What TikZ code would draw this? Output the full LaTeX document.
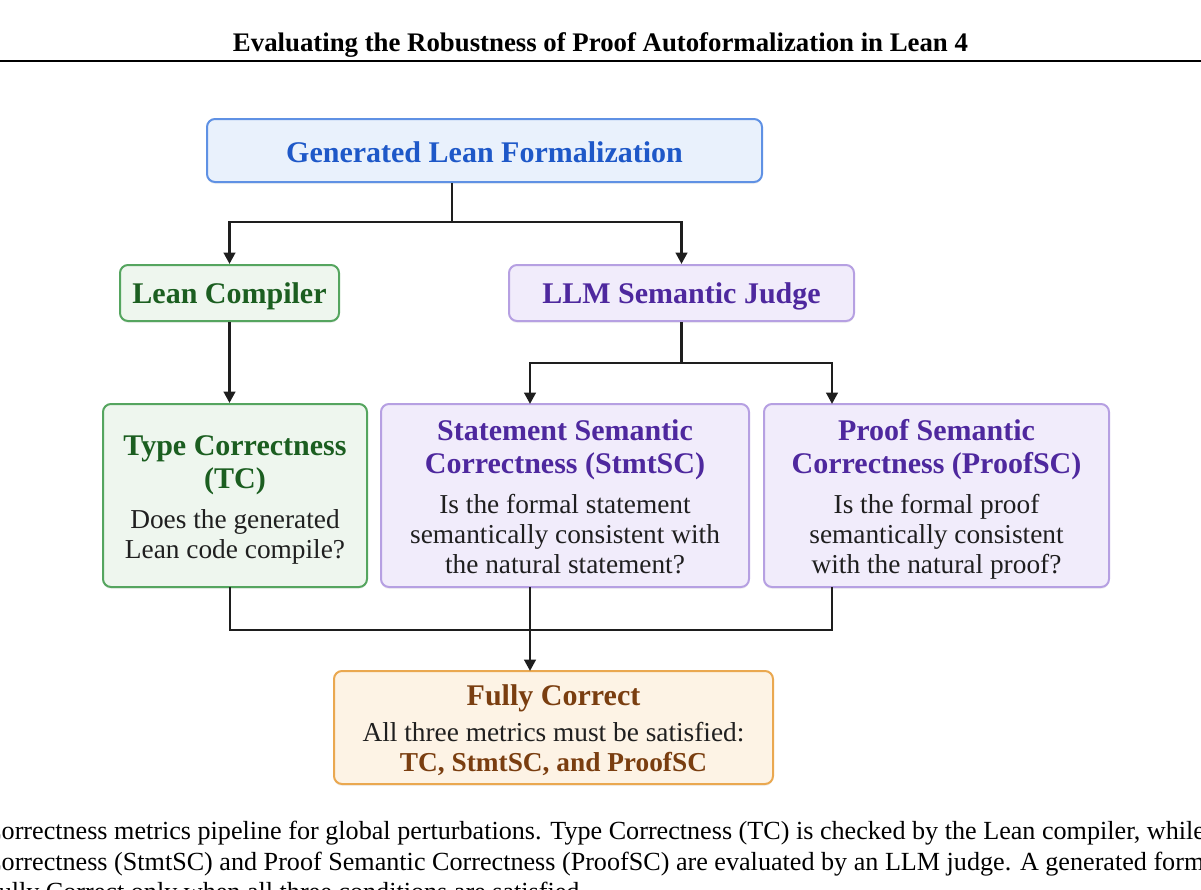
\documentclass[tikz,border=0pt]{standalone}
\usepackage{fontspec}
\setmainfont{Liberation Serif}
\usetikzlibrary{arrows.meta,shadows}
\definecolor{bluetx}{RGB}{30,88,200}
\definecolor{bluebd}{RGB}{95,145,228}
\definecolor{bluefl}{RGB}{233,241,252}
\definecolor{greentx}{RGB}{27,94,32}
\definecolor{greenbd}{RGB}{85,165,95}
\definecolor{greenfl}{RGB}{238,246,238}
\definecolor{purpletx}{RGB}{78,40,158}
\definecolor{purplebd}{RGB}{182,160,226}
\definecolor{purplefl}{RGB}{241,236,251}
\definecolor{orangetx}{RGB}{122,62,16}
\definecolor{orangebd}{RGB}{234,168,80}
\definecolor{orangefl}{RGB}{253,243,229}
\definecolor{linec}{RGB}{30,30,30}
\begin{document}
\begin{tikzpicture}[x=0.75pt,y=-0.75pt,
  box/.style={draw, rounded corners=6pt, line width=1.5pt, inner sep=0pt,
    drop shadow={opacity=0.10, shadow xshift=0pt, shadow yshift=-1.5pt}},
  bluebox/.style={box, draw=bluebd, fill=bluefl},
  greenbox/.style={box, draw=greenbd, fill=greenfl},
  purplebox/.style={box, draw=purplebd, fill=purplefl},
  orangebox/.style={box, draw=orangebd, fill=orangefl},
  hd/.style={anchor=base, inner sep=0pt, font=\fontsize{22.5}{27}\selectfont\bfseries},
  bd/.style={anchor=base, inner sep=0pt, text=black!88, font=\fontsize{20.5}{24}\selectfont},
  bdb/.style={anchor=base, inner sep=0pt, font=\fontsize{20.5}{24}\selectfont\bfseries},
  conn/.style={line width=2.2pt, draw=linec, line join=miter},
  arr/.style={conn, -{Triangle[length=8.5pt,width=8.5pt]}},
  captext/.style={anchor=base west, inner sep=0pt, font=\fontsize{19.6}{23}\selectfont}
]
\useasboundingbox (0,0) rectangle (1201,889);
\clip (0,0) rectangle (1201,889);

% header
\node[anchor=base, inner sep=0pt, font=\fontsize{20.1}{23}\selectfont\bfseries] (title) at (600.5,51) {Evaluating the Robustness of Proof Autoformalization in Lean 4};
\coordinate (ruleL) at (0,61);
\coordinate (ruleR) at (1201,61);
\draw[line width=1.9pt] (ruleL) -- (ruleR);

% boxes
\node[bluebox, minimum width=416.25pt, minimum height=47.25pt] (gen) at (484.5,150.5) {};
\node[greenbox, minimum width=164.25pt, minimum height=42pt] (lc) at (229.5,293) {};
\node[purplebox, minimum width=258.75pt, minimum height=42pt] (llm) at (681.5,293) {};
\node[greenbox, minimum width=198pt, minimum height=137.25pt] (tc) at (235,495.5) {};
\node[purplebox, minimum width=276pt, minimum height=137.25pt] (ssc) at (565,495.5) {};
\node[purplebox, minimum width=258.75pt, minimum height=137.25pt] (psc) at (936.5,495.5) {};
\node[orangebox, minimum width=329.25pt, minimum height=84.75pt] (fc) at (553.5,727.5) {};

% texts
\node[hd, text=bluetx] (genT) at (484.5,162) {Generated Lean Formalization};
\node[hd, text=greentx] (lcT) at (229.5,303) {Lean Compiler};
\node[hd, text=purpletx] (llmT) at (681.5,303) {LLM Semantic Judge};

\node[hd, text=greentx] (tc1) at (235,455) {Type Correctness};
\node[hd, text=greentx] (tc2) at (235,488) {(TC)};
\node[bd] (tc3) at (235,528) {Does the generated};
\node[bd] (tc4) at (235,558) {Lean code compile?};

\node[hd, text=purpletx] (ss1) at (565,440) {Statement Semantic};
\node[hd, text=purpletx] (ss2) at (565,473) {Correctness (StmtSC)};
\node[bd] (ss3) at (565,513) {Is the formal statement};
\node[bd] (ss4) at (565,543) {semantically consistent with};
\node[bd] (ss5) at (565,573) {the natural statement?};

\node[hd, text=purpletx] (ps1) at (936.5,440) {Proof Semantic};
\node[hd, text=purpletx] (ps2) at (936.5,473) {Correctness (ProofSC)};
\node[bd] (ps3) at (936.5,513) {Is the formal proof};
\node[bd] (ps4) at (936.5,543) {semantically consistent};
\node[bd] (ps5) at (936.5,573) {with the natural proof?};

\node[hd, text=orangetx] (fc1) at (553.5,705) {Fully Correct};
\node[bd] (fc2) at (553.5,741) {All three metrics must be satisfied:};
\node[bdb, text=orangetx] (fc3) at (553.5,771) {TC, StmtSC, and ProofSC};

% connectors
\coordinate (j1) at (452,222);
\coordinate (j2) at (681.5,363);
\coordinate (j3) at (530,630);
\coordinate (sIn) at (530,404);
\coordinate (pIn) at (832,404);
\coordinate (tOut) at (230,587);
\coordinate (sOut) at (530,587);
\coordinate (pOut) at (832,587);
\coordinate (fIn) at (530,671);

\draw[conn] (gen.south -| j1) -- (j1);
\draw[arr] (j1) -| (lc.north);
\draw[arr] (j1) -| (llm.north);
\draw[arr] (lc.south) -- (tc.north -| lc.south);
\draw[conn] (llm.south) -- (j2);
\draw[arr] (j2) -| (sIn);
\draw[arr] (j2) -| (pIn);
\draw[conn] (tOut) |- (j3);
\draw[conn] (pOut) |- (j3);
\draw[conn] (sOut) -- (j3);
\draw[arr] (j3) -- (fIn);

% caption
\node[captext] (c1) at (-16,839) {Correctness metrics pipeline for global perturbations. Type Correctness (TC) is checked by the Lean compiler, while};
\node[captext] (c2) at (-16,870) {Correctness (StmtSC) and Proof Semantic Correctness (ProofSC) are evaluated by an LLM judge. A generated formalization};
\node[captext] (c3) at (-16,900) {Fully Correct only when all three conditions are satisfied.};
\end{tikzpicture}
\end{document}
